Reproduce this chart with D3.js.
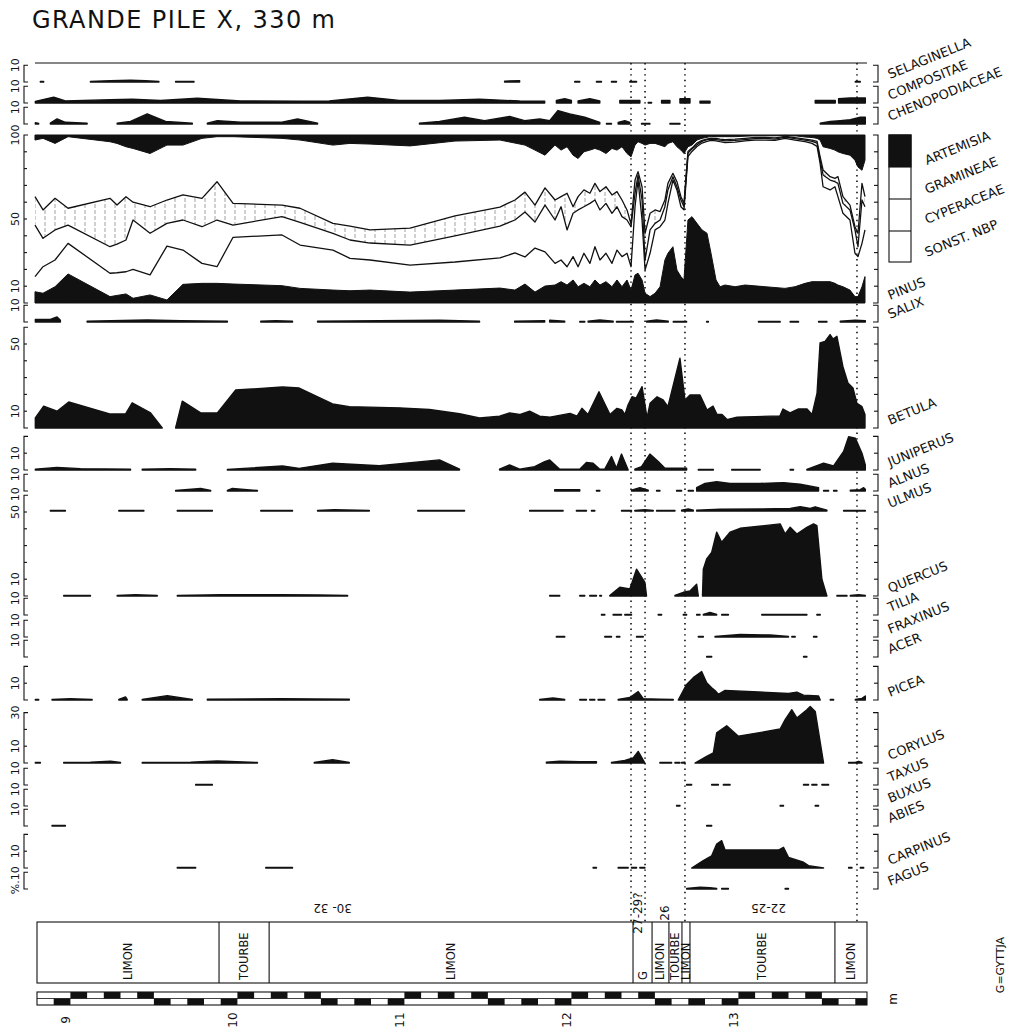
<!DOCTYPE html>
<html>
<head>
<meta charset="utf-8">
<script src="https://cdn.jsdelivr.net/npm/d3@7"></script>
<style>
  body { margin: 0; background: #fff; }
  svg text { font-family: "DejaVu Sans", sans-serif; fill: #111; }
</style>
</head>
<body>
<div id="chart"></div>
<script>
const width = 1024;
const height = 1030;
const ink = "#111";

// depth axis, metres
const depthTicks = [9, 10, 11, 12, 13];

// main diagram: cumulative percentages read from the bottom up
const mainDepth = [8.788, 8.836, 8.908, 8.986, 9.237, 9.279, 9.333, 9.375, 9.477, 9.578,
  9.674, 9.788, 9.878, 9.974, 10.267, 10.375, 10.572, 10.674, 10.794, 11.034,
  11.303, 11.572, 11.662, 11.722, 11.782, 11.842, 11.902, 11.938, 11.974, 12.010,
  12.040, 12.075, 12.111, 12.141, 12.171, 12.207, 12.243, 12.273, 12.303, 12.333,
  12.357, 12.381, 12.399, 12.423, 12.441, 12.471, 12.501, 12.531, 12.560, 12.578,
  12.608, 12.632, 12.656, 12.674, 12.698, 12.722, 12.752, 12.782, 12.812, 12.836,
  12.866, 12.890, 12.920, 12.980, 13.040, 13.099, 13.159, 13.219, 13.279, 13.339,
  13.399, 13.441, 13.471, 13.489, 13.507, 13.549, 13.578, 13.596, 13.626, 13.668,
  13.698, 13.716, 13.740, 13.758];
const pinus = [6.7, 5.8, 9.7, 17.3, 3.8, 4.5, 5.4, 2.8, 4.8, 1.8,
  11.1, 11.7, 11.7, 11.3, 10.3, 8.7, 7.7, 7.3, 7.7, 6.5,
  7.7, 8.9, 7.7, 11.3, 6.5, 10.1, 10.7, 12.7, 10.7, 13.7,
  9.7, 11.7, 9.7, 13.7, 10.7, 12.7, 9.7, 13.7, 9.7, 13.7,
  7.7, 16.7, 17.7, 13.7, 5.8, 3.8, 5.8, 9.7, 25.6, 29.6,
  33.5, 19.6, 15.7, 13.7, 49.4, 51.4, 47.4, 43.5, 41.5, 29.6,
  13.7, 9.7, 10.7, 9.7, 10.7, 10.2, 9.7, 9.2, 8.7, 9.7,
  11.7, 12.7, 12.7, 12.7, 12.7, 12.7, 11.7, 10.7, 9.7, 7.7,
  3.8, 3.8, 9.7, 15.7];
const apSum = [15.7, 21.6, 25.6, 35.5, 17.7, 18, 18.6, 20, 16.7, 33.9,
  31.5, 23.6, 21.6, 39.1, 40.5, 34.5, 31.5, 26.6, 25.6, 22.6,
  24.4, 26.8, 29.8, 27.4, 32.7, 30.4, 23.6, 25.6, 21.6, 27.6,
  21.6, 29.6, 23.6, 33.5, 25.6, 29.6, 23.6, 31.5, 27.6, 29.6,
  21.6, 57.3, 73.2, 49.4, 19.6, 29.6, 43.5, 45.4, 49.4, 59.3,
  73.2, 67.3, 57.3, 55.4, 87.2, 90.2, 93.2, 95.2, 96.2, 96.8,
  96.5, 96, 95.5, 95.8, 96.5, 97, 97, 96.8, 98, 97,
  96, 95, 93.2, 83.2, 69.2, 67.3, 69.2, 63.3, 53.4, 49.4,
  29.6, 27.6, 35.5, 43.5];
const nbpSum = [46.4, 38.5, 43.5, 46.4, 33.5, 35, 37.5, 49.4, 41.5, 47.4,
  49.4, 45.4, 49.4, 46.4, 51.4, 48, 41.5, 37.5, 35.7, 34.5,
  39.9, 45.8, 49.4, 54.2, 48.2, 58.3, 49.4, 57.3, 43.5, 53.4,
  55.4, 57.3, 59.3, 61.3, 55.4, 59.3, 53.4, 57.3, 51.4, 49.4,
  45.4, 65.3, 76.2, 61.3, 25.6, 43.5, 47.4, 49.4, 57.3, 67.3,
  75.2, 69.2, 61.3, 57.3, 89.2, 91.6, 94.2, 96.2, 97.2, 97.6,
  97.3, 97, 96.5, 96.8, 97.3, 97.8, 98, 97.6, 98.8, 97.8,
  97, 96.2, 95.2, 85.2, 76.2, 73.2, 72.2, 71.2, 59.3, 55.4,
  43.5, 33.5, 61.3, 57.3];
const cyperSum = [63.3, 55.4, 62.3, 56.4, 62.3, 58.3, 63.3, 60, 57.3, 61.3,
  64.3, 62.3, 72.2, 59.3, 58.3, 56.4, 47.4, 45.8, 43.5, 44.6,
  51.8, 57.1, 61.3, 66, 58.3, 68.5, 61.3, 63.3, 65.3, 57.3,
  63.3, 67.3, 65.3, 71.2, 66.3, 69.2, 64.3, 66.3, 61.3, 55.4,
  47, 73.2, 78.2, 69.2, 41.5, 53.4, 55.4, 54.4, 61.3, 71.2,
  77.2, 72.2, 63.3, 59.3, 90.2, 92.2, 95.2, 96.8, 97.6, 98.2,
  98, 97.6, 97.2, 97.5, 98, 98.5, 98.6, 98.3, 99.2, 98.5,
  97.6, 97, 96.2, 87.2, 79.2, 75.2, 74.2, 75.2, 63.3, 58.3,
  45.4, 41.5, 71.2, 63.3];
const gramSum = [97, 98, 95, 99, 96, 95, 93, 92, 89, 94,
  94, 98, 99, 99, 98, 97, 94, 95, 94.6, 93.5,
  96.4, 97, 95.2, 94, 91, 88, 94, 91, 93, 88,
  86, 90, 91, 92, 91, 89, 92, 91, 93, 89,
  87, 94, 96, 95, 94, 95, 95, 94, 93, 95,
  96, 93, 91, 89, 93, 94, 97, 98, 98.6, 99.2,
  99, 99, 99, 99, 99.3, 99.5, 99.5, 99.5, 99.8, 99.5,
  98.8, 98.5, 98, 97, 93, 92, 91, 90, 89, 88,
  85, 81, 79, 85];

// single taxa: runs of [depth, %]; a bare [from, to] is a trace dash
const selaginella = [
  [[8.82, 0.3], [8.84, 0.3]],
  [[9.12, 0.4], [9.24, 0.8], [9.36, 1.0], [9.45, 0.8], [9.53, 0.3]],
  [9.63, 9.74], [[11.60, 0.5], [11.69, 0.8]],
  [12.02, 12.05], [12.15, 12.18], [12.24, 12.27], [12.35, 12.39], [13.70, 13.73]
];
const compositae = [
  [[8.79, 1], [8.90, 3.5], [8.97, 1.2], [9.24, 2], [9.37, 2.2], [9.54, 1.5], [9.76, 2.8], [10.02, 1.2],
   [10.37, 1], [10.55, 1.2], [10.78, 3.5], [10.97, 1.5], [11.21, 1.5], [11.45, 2.2], [11.69, 1.2], [11.84, 1]],
  [[11.91, 1.5], [11.96, 2.5], [12.00, 1.5]],
  [[12.04, 1.2], [12.11, 2.5], [12.17, 1.2]],
  [[12.29, 1.5], [12.41, 1.5]],
  [12.46, 12.48],
  [[12.54, 1.5], [12.59, 1.5]],
  [[12.65, 2.5], [12.71, 2.5]],
  [[12.77, 1], [12.83, 1]],
  [[13.46, 1.5], [13.58, 1.5]],
  [[13.60, 2.5], [13.67, 3], [13.76, 3]]
];
const chenopodiaceae = [
  [[8.79, 0.8], [8.81, 0.3]],
  [[8.88, 0.5], [8.92, 3], [8.97, 1], [9.10, 0.5]],
  [[9.28, 0.5], [9.36, 1.5], [9.46, 6], [9.57, 1.5], [9.73, 0.5]],
  [[9.82, 0.5], [9.88, 2], [10.02, 1], [10.26, 1], [10.36, 3], [10.48, 0.5]],
  [[11.09, 0.5], [11.21, 1.5], [11.36, 4], [11.48, 2], [11.63, 4.5], [11.72, 2], [11.81, 3],
   [11.87, 2], [11.92, 8], [11.99, 6], [12.08, 4], [12.17, 1]],
  [12.21, 12.24],
  [[12.28, 1], [12.32, 2], [12.35, 1]],
  [12.42, 12.47], [12.59, 12.65],
  [[13.49, 0.5], [13.55, 1.5], [13.61, 2], [13.67, 2.5], [13.73, 4], [13.76, 4]]
];
const salix = [
  [[8.79, 1.5], [8.88, 1.5], [8.92, 3], [8.94, 1]],
  [[9.10, 0.5], [9.46, 1.2], [9.66, 0.8], [9.94, 0.5]],
  [[10.14, 0.5], [10.23, 0.8], [10.33, 0.5]],
  [[10.48, 0.5], [10.85, 0.8], [11.21, 1], [11.45, 0.5]],
  [[11.66, 0.5], [11.84, 0.8]],
  [[11.87, 1], [11.96, 0.5]],
  [12.05, 12.08],
  [[12.10, 0.5], [12.17, 1.2], [12.25, 0.5]],
  [12.27, 12.37],
  [[12.45, 0.5], [12.51, 1.2], [12.58, 0.5]],
  [12.61, 12.69], [12.81, 12.82], [13.12, 13.25], [13.31, 13.36], [13.48, 13.53],
  [[13.61, 0.5], [13.70, 1], [13.76, 0.8]]
];
const betula = [
  [[8.79, 6], [8.84, 13], [8.92, 10], [8.99, 15.5], [9.24, 8.3], [9.33, 8.3], [9.37, 15], [9.48, 9], [9.55, 0]],
  [[9.63, 0], [9.67, 16], [9.78, 9], [9.88, 9], [9.99, 22.6], [10.27, 24.4], [10.37, 23.8], [10.57, 14.3],
   [10.67, 12.7], [10.97, 12], [11.15, 11], [11.33, 8.5], [11.45, 6], [11.57, 7], [11.63, 9], [11.69, 8],
   [11.75, 10], [11.81, 7], [11.872, 6.5], [11.992, 8.7], [12.034, 7], [12.063, 11.7], [12.099, 8],
   [12.165, 21.6], [12.231, 8], [12.273, 11.7], [12.303, 10.7], [12.321, 8], [12.339, 13.7], [12.363, 18.6],
   [12.387, 17.7], [12.423, 24.6], [12.453, 6], [12.471, 14.7], [12.513, 18.6], [12.549, 16.7], [12.578, 12.7],
   [12.650, 41.5], [12.680, 16.7], [12.710, 19.6], [12.770, 19.6], [12.812, 10.7], [12.848, 13], [12.872, 8],
   [12.902, 8], [12.932, 5], [12.992, 6.5], [13.249, 7.2], [13.267, 11.3], [13.309, 9], [13.357, 11.3],
   [13.411, 11.3], [13.441, 8], [13.471, 20.8], [13.489, 50.6], [13.519, 51.6], [13.549, 55.6], [13.566, 53],
   [13.590, 54.6], [13.626, 36.5], [13.656, 26.8], [13.686, 23.8], [13.710, 14.7], [13.740, 12.7], [13.758, 8]]
];
const juniperus = [
  [[8.79, 0.5], [8.92, 1.5], [9.06, 0.8], [9.36, 0.5]],
  [[9.43, 0.5], [9.60, 0.8], [9.75, 0.5]],
  [[9.94, 0.3], [10.27, 2.4], [10.37, 1], [10.57, 4], [10.85, 2.5], [11.21, 6], [11.33, 0.5]],
  [[11.57, 0.5], [11.63, 3], [11.69, 0.5], [11.78, 2], [11.84, 5], [11.87, 6], [11.93, 0.5], [12.05, 0.5],
   [12.09, 4.5], [12.13, 4], [12.17, 0.5], [12.20, 0.5], [12.24, 8], [12.27, 1], [12.30, 9.5], [12.34, 0]],
  [[12.38, 0.5], [12.42, 2], [12.47, 9.5], [12.52, 5], [12.56, 1], [12.69, 1]],
  [12.76, 12.85], [12.96, 13.13], [13.31, 13.33],
  [[13.41, 0.3], [13.51, 4], [13.57, 2.4], [13.63, 11], [13.66, 19.8], [13.70, 19], [13.74, 10], [13.76, 3]]
];
const alnus = [
  [[9.63, 0.3], [9.78, 1.5], [9.84, 0.3]],
  [[9.94, 0.3], [9.97, 1.5], [10.12, 0.3]],
  [[11.90, 0.8], [12.05, 0.8]],
  [12.15, 12.17],
  [[12.36, 0.5], [12.41, 2], [12.46, 0.5]],
  [12.51, 12.53], [12.63, 12.66], [12.70, 12.73],
  [[12.75, 2], [12.80, 4.5], [12.87, 5.5], [12.95, 4.5], [13.13, 4.5], [13.27, 5], [13.37, 4], [13.48, 2]],
  [13.51, 13.54], [13.57, 13.59],
  [[13.67, 0.5], [13.73, 0.8], [13.75, 2], [13.76, 1]]
];
const ulmus = [
  [8.88, 8.97], [9.29, 9.44], [9.64, 9.85], [10.14, 10.33],
  [[10.48, 0.3], [10.58, 0.8], [10.79, 0.3]],
  [11.08, 11.36], [11.75, 11.95], [12.03, 12.09], [12.12, 12.14], [12.30, 12.36],
  [[12.38, 0.3], [12.44, 0.8], [12.49, 0.3]],
  [12.51, 12.62],
  [[12.66, 0.5], [12.70, 1.2], [12.73, 0.5]],
  [[12.75, 0.5], [12.89, 1], [13.13, 1.2], [13.31, 1.5], [13.37, 2.5], [13.43, 1.5], [13.46, 2.5], [13.53, 0.5]],
  [13.63, 13.76]
];
const quercus = [
  [8.96, 9.12],
  [[9.28, 0.3], [9.39, 0.8], [9.52, 0.3]],
  [[9.64, 0.3], [9.90, 0.8], [10.26, 0.8], [10.49, 0.6], [10.66, 0.3]],
  [11.87, 11.93], [12.05, 12.08], [12.11, 12.15], [12.17, 12.18],
  [[12.23, 0.3], [12.29, 5.2], [12.35, 4.2], [12.39, 16], [12.44, 8.1], [12.45, 0]],
  [[12.62, 0.3], [12.67, 2.2], [12.71, 3], [12.75, 7], [12.76, 0]],
  [[12.785, 0], [12.79, 16], [12.81, 22], [12.84, 26], [12.87, 38], [12.90, 32], [12.95, 38], [13.01, 40.3],
   [13.25, 42.9], [13.28, 36.9], [13.31, 40.9], [13.35, 36.9], [13.41, 40.9], [13.45, 42.9], [13.47, 41.9],
   [13.50, 10], [13.53, 0]],
  [13.59, 13.65],
  [[13.67, 0.3], [13.72, 0.8], [13.76, 0.3]]
];
const tilia = [
  [12.18, 12.20], [12.25, 12.30], [12.32, 12.36], [12.52, 12.54], [12.67, 12.69], [12.75, 12.77],
  [[12.79, 0.3], [12.83, 1.5], [12.87, 0.3]],
  [12.90, 12.94], [13.14, 13.41], [13.47, 13.49]
];
const fraxinus = [
  [11.91, 11.96], [12.20, 12.24], [12.27, 12.29], [12.39, 12.43], [12.76, 12.79],
  [[12.86, 0.3], [13.01, 1.5], [13.19, 1.2], [13.30, 0.3]],
  [13.32, 13.34], [13.45, 13.47]
];
const acer = [[12.81, 12.84], [13.39, 13.41]];
const picea = [
  [8.79, 8.81],
  [[8.89, 0.3], [9.00, 0.8], [9.13, 0.3]],
  [[9.29, 0.3], [9.33, 1.8], [9.34, 0.3]],
  [[9.43, 0.3], [9.58, 2.6], [9.73, 0.3]],
  [[9.82, 0.5], [10.26, 0.8], [10.67, 0.5]],
  [[11.81, 0.3], [11.89, 1.2], [11.96, 0.3]],
  [12.05, 12.09], [12.11, 12.14], [12.16, 12.20],
  [[12.28, 0.3], [12.35, 1.5], [12.40, 5], [12.43, 0.8], [12.53, 0.5], [12.61, 0.3]],
  [[12.64, 0], [12.69, 9.3], [12.73, 13.3], [12.78, 16.9], [12.81, 10.3], [12.84, 7.3], [12.86, 5.7],
   [12.88, 3.4], [12.92, 5.7], [13.30, 3.9], [13.35, 4.7], [13.39, 2.9], [13.48, 2.4], [13.49, 0]],
  [13.55, 13.57],
  [[13.70, 0.3], [13.74, 1], [13.76, 2.4]]
];
const corylus = [
  [8.79, 8.82],
  [[8.96, 0.3], [9.12, 0.5], [9.24, 1], [9.30, 0.3]],
  [[9.43, 0.3], [9.72, 0.5], [9.88, 1.2], [10.12, 0.3]],
  [[10.46, 0.3], [10.57, 2], [10.67, 0.3]],
  [[11.85, 0.5], [11.93, 1], [12.05, 0.8], [12.15, 0.8]],
  [[12.24, 0.3], [12.32, 1.5], [12.37, 3], [12.40, 6.9], [12.44, 0]],
  [12.53, 12.60], [12.62, 12.65],
  [[12.66, 0.3], [12.68, 0.5]],
  [[12.74, 0], [12.81, 4], [12.85, 6], [12.87, 17.9], [12.93, 22.2], [13.00, 15.9], [13.25, 20.2], [13.28, 25.8],
   [13.32, 31.7], [13.35, 26.8], [13.41, 31.7], [13.43, 33.7], [13.46, 30.7], [13.51, 0]],
  [[13.66, 0.3], [13.70, 0.3], [13.72, 1], [13.74, 0.3]]
];
const taxus = [[9.75, 9.85], [12.69, 12.72], [12.84, 12.88], [12.91, 12.95], [13.39, 13.42], [13.44, 13.47], [13.50, 13.54]];
const buxus = [[12.63, 12.65], [13.25, 13.27], [13.46, 13.48]];
const abies = [[8.89, 8.97], [12.81, 12.84]];
const carpinus = [
  [9.64, 9.75], [10.17, 10.33], [12.13, 12.15], [12.28, 12.34], [12.36, 12.39], [12.41, 12.44],
  [[12.72, 0], [12.79, 4.4], [12.84, 7.3], [12.87, 14.3], [12.90, 16.3], [12.92, 10.7], [13.24, 10.7],
   [13.27, 12.3], [13.30, 6.3], [13.39, 3.4], [13.42, 1.4], [13.51, 0]],
  [13.66, 13.68], [13.73, 13.75]
];
const fagus = [
  [[12.69, 0.3], [12.77, 1], [12.83, 0.8], [12.87, 0.3]],
  [12.90, 12.94], [13.28, 13.30]
];

// zone boundaries (dotted) and zone names
const zoneBounds = [12.357, 12.441, 12.680, 13.710];
const zoneNames = [
  { text: "30- 32", depth: 10.57, rot: 180 },
  { text: "27-29?", depth: 12.40, rot: -90 },
  { text: "26", depth: 12.56, rot: -90 },
  { text: "22-25", depth: 13.18, rot: 180 }
];

// sediment column
const litho = [
  [8.8, 9.89, "LIMON"], [9.89, 10.19, "TOURBE"], [10.19, 12.369, "LIMON"], [12.369, 12.483, "G"],
  [12.483, 12.584, "LIMON"], [12.584, 12.662, "TOURBE"], [12.662, 12.71, "LIMON"],
  [12.71, 13.578, "TOURBE"], [13.578, 13.77, "LIMON"]
];

// ---------------------------------------------------------------
const svg = d3.select("#chart").append("svg")
  .attr("width", width)
  .attr("height", height);

const x = d3.scaleLinear().domain([8.8, 13.8]).range([37, 872]);
const left = x(8.788), right = x(13.77);

// vertical dashed hatch for Cyperaceae
const pat = svg.append("defs").append("pattern")
  .attr("id", "hatch").attr("patternUnits", "userSpaceOnUse")
  .attr("width", 10).attr("height", 6);
pat.append("line").attr("x1", 5).attr("x2", 5).attr("y1", 0).attr("y2", 4)
  .attr("stroke", "#777").attr("stroke-width", 0.7);

const panels = [
  { name: "SELAGINELLA", data: selaginella, base: 82, max: 10, labels: [10] },
  { name: "COMPOSITAE", data: compositae, base: 103, max: 10, labels: [10] },
  { name: "CHENOPODIACEAE", data: chenopodiaceae, base: 124, max: 10, labels: [10] },
  { name: "SALIX", data: salix, base: 322, max: 10, labels: [10] },
  { name: "BETULA", data: betula, base: 428, max: 60, labels: [50, 10] },
  { name: "JUNIPERUS", data: juniperus, base: 470, max: 20, labels: [10] },
  { name: "ALNUS", data: alnus, base: 491, max: 10, labels: [10] },
  { name: "ULMUS", data: ulmus, base: 511, max: 0, labels: [10] },
  { name: "QUERCUS", data: quercus, base: 596, max: 60, labels: [50, 10] },
  { name: "TILIA", data: tilia, base: 615, max: 10, labels: [10] },
  { name: "FRAXINUS", data: fraxinus, base: 637, max: 10, labels: [10] },
  { name: "ACER", data: acer, base: 657, max: 10, labels: [10] },
  { name: "PICEA", data: picea, base: 700, max: 20, labels: [10] },
  { name: "CORYLUS", data: corylus, base: 763, max: 30, labels: [30, 10] },
  { name: "TAXUS", data: taxus, base: 785, max: 10, labels: [10] },
  { name: "BUXUS", data: buxus, base: 806, max: 10, labels: [10] },
  { name: "ABIES", data: abies, base: 826, max: 10, labels: [10] },
  { name: "CARPINUS", data: carpinus, base: 868, max: 20, labels: [10] },
  { name: "FAGUS", data: fagus, base: 889, max: 10, labels: [10], prefix: "%." }
];

function bracket(y, max) {
  const g = svg.append("g").attr("stroke", ink).attr("stroke-width", 1.1).attr("fill", "none");
  const ticks = d3.range(0, max + 0.1, 10);
  // left "["
  g.append("path").attr("d", `M28,${y(max)}H24V${y(0)}H28`);
  ticks.slice(1, -1).forEach(t => g.append("line").attr("x1", 24).attr("x2", 27).attr("y1", y(t)).attr("y2", y(t)));
  // right "]"
  g.append("path").attr("d", `M873,${y(max)}H878V${y(0)}H873`);
  ticks.slice(1, -1).forEach(t => g.append("line").attr("x1", 878).attr("x2", 874).attr("y1", y(t)).attr("y2", y(t)));
}

function sideLabel(text, xPos, yPos, anchor) {
  svg.append("text")
    .attr("transform", `translate(${xPos},${yPos}) rotate(-90)`)
    .attr("text-anchor", anchor || "middle")
    .attr("dominant-baseline", "central")
    .attr("font-size", 11)
    .text(text);
}

function taxonLabel(text, xPos, yPos) {
  svg.append("text")
    .attr("transform", `translate(${xPos},${yPos}) rotate(-22)`)
    .attr("font-size", 13)
    .text(text);
}

// single-taxon silhouettes
panels.forEach(p => {
  const y = d3.scaleLinear().domain([0, 100]).range([p.base, p.base - 168]);
  const area = d3.area().x(d => x(d[0])).y0(y(0)).y1(d => y(d[1]));
  const g = svg.append("g");
  p.data.forEach(seg => {
    const run = typeof seg[0] === "number" ? [[seg[0], 0.3], [seg[1], 0.3]] : seg;
    g.append("path")
      .attr("d", area(run))
      .attr("fill", ink)
      .attr("stroke", ink)
      .attr("stroke-width", 1.4)
      .attr("stroke-linejoin", "round");
  });
  if (p.max > 0) bracket(y, p.max);
  p.labels.forEach(v => {
    if (p.prefix) sideLabel(p.prefix + v, 15, y(v) - 6, "end");
    else sideLabel(String(v), 15, y(v));
  });
  taxonLabel(p.name, 890, p.base - 3);
});

// main diagram
const yMain = d3.scaleLinear().domain([0, 100]).range([303, 135]);
const mainRows = mainDepth.map((d, i) => ({
  d, pinus: pinus[i], ap: apSum[i], nbp: nbpSum[i], cyper: cyperSum[i], gram: gramSum[i]
}));

svg.append("path")
  .attr("d", d3.area().x(r => x(r.d)).y0(r => yMain(r.nbp)).y1(r => yMain(r.cyper))(mainRows))
  .attr("fill", "url(#hatch)");

svg.append("path")
  .attr("d", d3.area().x(r => x(r.d)).y0(yMain(0)).y1(r => yMain(r.pinus))(mainRows))
  .attr("fill", ink).attr("stroke", ink).attr("stroke-width", 1);

svg.append("path")
  .attr("d", d3.area().x(r => x(r.d)).y0(yMain(100)).y1(r => yMain(r.gram))(mainRows))
  .attr("fill", ink).attr("stroke", ink).attr("stroke-width", 1);

["ap", "nbp", "cyper"].forEach(k => {
  svg.append("path")
    .attr("d", d3.line().x(r => x(r.d)).y(r => yMain(r[k]))(mainRows))
    .attr("fill", "none").attr("stroke", ink).attr("stroke-width", 1.3)
    .attr("stroke-linejoin", "round");
});

bracket(yMain, 100);
[100, 50, 10].forEach(v => sideLabel(String(v), 15, yMain(v)));
taxonLabel("PINUS", 890, 300);

// legend
const leg = svg.append("g").attr("stroke", ink).attr("stroke-width", 1.1);
leg.append("rect").attr("x", 889).attr("y", 135).attr("width", 22).attr("height", 127).attr("fill", "#fff");
leg.append("rect").attr("x", 889).attr("y", 135).attr("width", 22).attr("height", 32).attr("fill", ink);
[199, 231].forEach(yy => leg.append("line").attr("x1", 889).attr("x2", 911).attr("y1", yy).attr("y2", yy));
[["ARTEMISIA", 165], ["GRAMINEAE", 194], ["CYPERACEAE", 224], ["SONST. NBP", 257]]
  .forEach(([t, yy]) => taxonLabel(t, 927, yy));

// top rule
svg.append("line").attr("x1", left).attr("x2", right).attr("y1", 63).attr("y2", 63)
  .attr("stroke", ink).attr("stroke-width", 1.2);

// zone boundaries
zoneBounds.forEach(d => {
  svg.append("line")
    .attr("x1", x(d)).attr("x2", x(d)).attr("y1", 63).attr("y2", 922)
    .attr("stroke", ink).attr("stroke-width", 1.6)
    .attr("stroke-dasharray", "1.4,4.2");
});

zoneNames.forEach(z => {
  const yy = z.rot === 180 ? 908 : 913;
  svg.append("text")
    .attr("transform", `translate(${x(z.depth)},${yy}) rotate(${z.rot})`)
    .attr("text-anchor", "middle")
    .attr("dominant-baseline", "central")
    .attr("font-size", 12)
    .text(z.text);
});

// sediment column
const lg = svg.append("g").attr("stroke", ink).attr("stroke-width", 1.1).attr("fill", "none");
lg.append("rect").attr("x", x(8.8)).attr("y", 922).attr("width", x(13.77) - x(8.8)).attr("height", 61);
litho.slice(1).forEach(([d0]) => {
  lg.append("line").attr("x1", x(d0)).attr("x2", x(d0)).attr("y1", 922).attr("y2", 983);
});
litho.forEach(([d0, d1, name]) => {
  svg.append("text")
    .attr("transform", `translate(${(x(d0) + x(d1)) / 2},980) rotate(-90)`)
    .attr("dominant-baseline", "central")
    .attr("font-size", 11.5)
    .text(name);
});
svg.append("text")
  .attr("transform", "translate(1000,965) rotate(-90)")
  .attr("text-anchor", "middle").attr("dominant-baseline", "central")
  .attr("font-size", 11).text("G=GYTTJA");

// depth scale bar: 10 cm cells, first half-metre on top row, second half on bottom row
const cells = d3.range(0, 50).map(i => 8.8 + i / 10);
const bar = svg.append("g");
bar.append("rect").attr("x", x(8.8)).attr("y", 992).attr("width", x(13.77) - x(8.8)).attr("height", 13)
  .attr("fill", "#fff").attr("stroke", ink).attr("stroke-width", 1.1);
cells.forEach(d => {
  const k = Math.round((d - Math.floor(d + 1e-6)) * 10);
  const top = k < 5;
  if ((top && k % 2 === 0) || (!top && k % 2 === 1)) {
    bar.append("rect")
      .attr("x", x(d)).attr("y", top ? 992 : 998.5)
      .attr("width", Math.min(x(d + 0.1), x(13.77)) - x(d)).attr("height", 6.5)
      .attr("fill", ink);
  }
});
bar.append("line").attr("x1", x(8.8)).attr("x2", x(13.77)).attr("y1", 998.5).attr("y2", 998.5)
  .attr("stroke", ink).attr("stroke-width", 0.8);

depthTicks.forEach(t => {
  svg.append("text")
    .attr("transform", `translate(${x(t) - 4},1020) rotate(-90)`)
    .attr("text-anchor", "middle").attr("dominant-baseline", "central")
    .attr("font-size", 12).text(t);
});
svg.append("text")
  .attr("transform", "translate(893,999) rotate(-90)")
  .attr("text-anchor", "middle").attr("dominant-baseline", "central")
  .attr("font-size", 12).text("m");

// title
svg.append("text")
  .attr("x", 32).attr("y", 28)
  .attr("font-size", 24)
  .attr("textLength", 303).attr("lengthAdjust", "spacing")
  .text("GRANDE PILE X, 330 m");
</script>
</body>
</html>
